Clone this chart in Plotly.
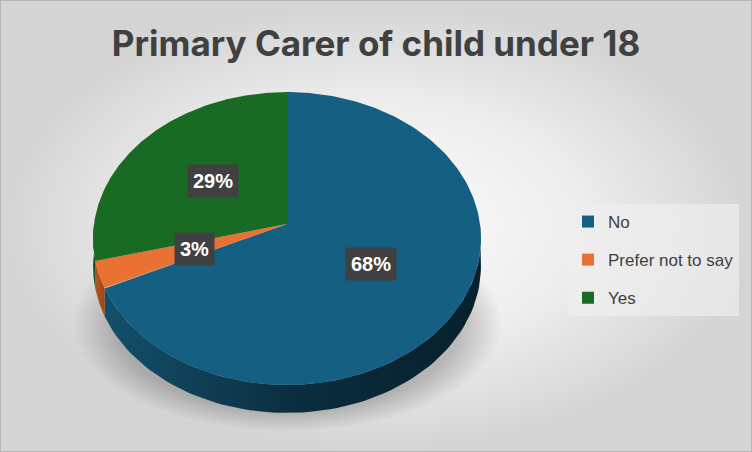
import numpy as np
import plotly.graph_objects as go

# data
categories = ["No", "Prefer not to say", "Yes"]
values = [68, 3, 29]
slice_colors = ["#156082", "#E97132", "#196B24"]
side_colors = [
    [[0, "#13506c"], [0.5, "#0b2e3f"], [1, "#07202c"]],
    [[0, "#b4561f"], [1, "#9a4818"]],
    [[0, "#145a1d"], [1, "#0f4416"]],
]
title_text = "Primary Carer of child under 18"

W, H = 752, 452
# pie geometry in pixel units (tilted disc with a little perspective)
cx, cy = 287, 224
rx, ry = 193, 145
persp = -0.099
depth = 28


def proj(theta, r=1.0):
    u = r * np.sin(theta)
    v = -r * np.cos(theta)
    s = 1.0 / (1.0 + persp * v)
    return cx + rx * u * s, cy + ry * v * s


fig = go.Figure()

# background with radial shading
fig.add_trace(go.Scatter(
    x=[0, W, W, 0, 0], y=[0, 0, H, H, 0], mode="lines", line=dict(width=0),
    fill="toself",
    fillgradient=dict(type="radial", colorscale=[[0, "#fdfdfd"], [0.55, "#ededed"], [1, "#d4d4d4"]]),
    hoverinfo="skip", showlegend=False,
))

# soft shadow under the pie
t = np.linspace(0, 2 * np.pi, 200)
fig.add_trace(go.Scatter(
    x=cx + 215 * np.cos(t), y=324 + 108 * np.sin(t), mode="lines", line=dict(width=0),
    fill="toself",
    fillgradient=dict(type="radial", colorscale=[[0, "rgba(0,0,0,0.32)"], [0.8, "rgba(0,0,0,0.22)"], [1, "rgba(0,0,0,0)"]]),
    hoverinfo="skip", showlegend=False,
))

total = sum(values)
bounds = np.concatenate([[0], np.cumsum(values) / total * 2 * np.pi])

# side walls (front half only)
for i in range(len(values)):
    a0 = max(bounds[i], np.pi / 2)
    a1 = min(bounds[i + 1], 3 * np.pi / 2)
    if a1 <= a0:
        continue
    th = np.linspace(a0, a1, 80)
    xs, ys = proj(th)
    px = np.concatenate([xs, xs[::-1], xs[:1]])
    py = np.concatenate([ys, ys[::-1] + depth, ys[:1]])
    fig.add_trace(go.Scatter(
        x=px, y=py, mode="lines", line=dict(width=0), fill="toself",
        fillgradient=dict(type="horizontal", colorscale=side_colors[i]),
        hoverinfo="skip", showlegend=False,
    ))

# top faces
for i in range(len(values)):
    th = np.linspace(bounds[i], bounds[i + 1], 200)
    xs, ys = proj(th)
    px = np.concatenate([[cx], xs, [cx]])
    py = np.concatenate([[cy], ys, [cy]])
    fig.add_trace(go.Scatter(
        x=px, y=py, mode="lines", line=dict(width=0), fill="toself",
        fillcolor=slice_colors[i], hoverinfo="skip", showlegend=False,
    ))

# legend entries
for i, name in enumerate(categories):
    fig.add_trace(go.Scatter(
        x=[None], y=[None], mode="markers", name=name, legendgroup=name,
        marker=dict(symbol="square", size=12, color=slice_colors[i]),
    ))

# data labels
for i, v in enumerate(values):
    mid = (bounds[i] + bounds[i + 1]) / 2
    lx, ly = proj(mid, 0.5)
    fig.add_annotation(
        x=lx, y=ly, text=f"<b>{v}%</b>", showarrow=False,
        font=dict(family="Liberation Sans, Arial", size=20, color="white"),
        bgcolor="#404040", borderpad=5,
    )

fig.update_layout(
    width=W, height=H,
    margin=dict(l=0, r=0, t=0, b=0),
    paper_bgcolor="#d9d9d9", plot_bgcolor="rgba(0,0,0,0)",
    xaxis=dict(range=[0, W], visible=False, fixedrange=True),
    yaxis=dict(range=[H, 0], visible=False, fixedrange=True),
    title=dict(
        text=f"<b>{title_text}</b>", x=0.5, xanchor="center", y=1 - 44 / H, yanchor="middle",
        font=dict(family="Inter", size=35, color="#404040"),
    ),
    legend=dict(
        x=568 / W, y=1 - 204 / H, xanchor="left", yanchor="top",
        bgcolor="rgba(238,238,238,0.7)", borderwidth=0,
        font=dict(family="Liberation Sans, Arial", size=17, color="#404040"),
        tracegroupgap=13, itemwidth=30,
    ),
    shapes=[dict(type="rect", xref="paper", yref="paper", x0=0, y0=0, x1=1, y1=1,
                 line=dict(color="#b5b5b5", width=2))],
    showlegend=True,
)

fig.write_html("out.html", config={"displayModeBar": False},
               post_script="document.body.style.margin='0px';")
